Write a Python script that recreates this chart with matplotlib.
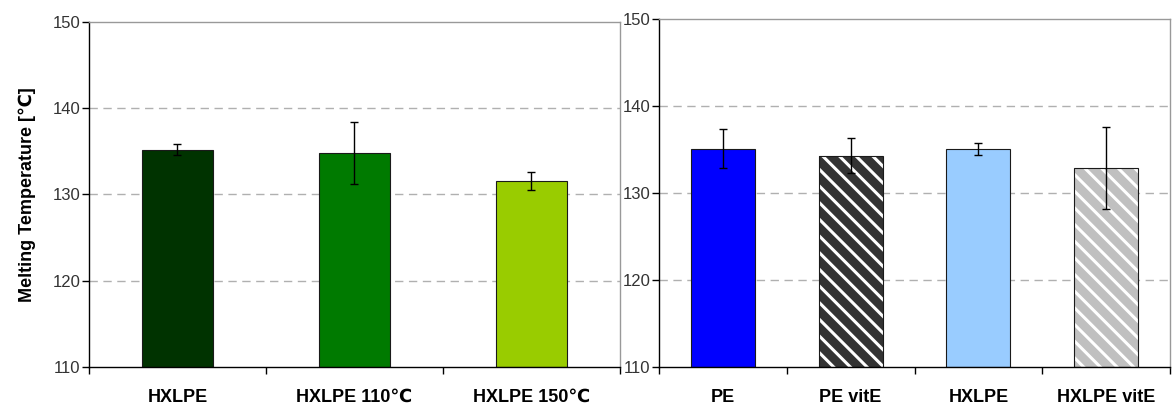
import matplotlib.pyplot as plt
import numpy as np

# melting temperatures, heat-treated HXLPE series
left_labels = ["HXLPE", "HXLPE 110\u2103", "HXLPE 150\u2103"]
left_means = [135.2, 134.85, 131.6]
left_err = [0.6, 3.6, 1.05]
left_colors = ["#003300", "#007a00", "#99cc00"]

# melting temperatures, vitamin E series
right_labels = ["PE", "PE vitE", "HXLPE", "HXLPE vitE"]
right_means = [135.1, 134.3, 135.1, 132.9]
right_err = [2.2, 2.05, 0.7, 4.7]
right_colors = ["#0000ff", "#333333", "#99ccff", "#c0c0c0"]
right_hatched = [False, True, False, True]

y_ticks = [110, 120, 130, 140, 150]

plt.rcParams['font.family'] = ['Liberation Sans', 'DejaVu Sans']
plt.rcParams['hatch.linewidth'] = 2.2

fig = plt.figure(figsize=(11.72, 4.08), dpi=100)
ax1 = fig.add_axes([0.0759, 0.1005, 0.4531, 0.8456])
ax2 = fig.add_axes([0.5623, 0.1005, 0.4360, 0.8530])


def style_axes(ax, labels):
    n = len(labels)
    ax.set_ylim(110, 150)
    ax.set_xlim(-0.5, n - 0.5)
    ax.set_yticks(y_ticks)
    ax.set_yticklabels([str(t) for t in y_ticks], fontsize=12, color="#333333")
    ax.set_xticks(np.arange(n))
    ax.set_xticklabels(labels, fontsize=13, fontweight="bold", va="baseline")
    ax.tick_params(axis="x", length=0, pad=25)
    ax.set_xticks(np.arange(n + 1) - 0.5, minor=True)
    ax.tick_params(axis="x", which="minor", length=5, width=1, direction="out")
    ax.tick_params(axis="y", length=5, width=1, direction="out", pad=1)
    for t in [120, 130, 140]:
        ax.axhline(t, color="#b0b0b0", linestyle=(0, (6, 4)), linewidth=1, zorder=0)
    ax.spines["left"].set_color("black")
    ax.spines["bottom"].set_color("black")
    ax.spines["top"].set_color("#999999")
    ax.spines["right"].set_color("#999999")
    for s in ax.spines.values():
        s.set_linewidth(1)


# left panel
x1 = np.arange(len(left_labels))
ax1.bar(x1, np.array(left_means) - 110, bottom=110, width=0.4,
        color=left_colors, edgecolor="#1a1a1a", linewidth=0.8, zorder=2)
ax1.errorbar(x1, left_means, yerr=left_err, fmt="none", ecolor="black",
             elinewidth=1, capsize=3, capthick=1, zorder=3)
style_axes(ax1, left_labels)
ax1.set_ylabel("Melting Temperature [\u2103]", fontsize=13, fontweight="bold", labelpad=12)

# right panel
x2 = np.arange(len(right_labels))
for xi, m, c, h in zip(x2, right_means, right_colors, right_hatched):
    if h:
        ax2.bar(xi, m - 110, bottom=110, width=0.5, color=c, edgecolor="white",
                hatch="\\\\", linewidth=0, zorder=2)
        ax2.bar(xi, m - 110, bottom=110, width=0.5, fill=False,
                edgecolor="#1a1a1a", linewidth=0.8, zorder=2)
    else:
        ax2.bar(xi, m - 110, bottom=110, width=0.5, color=c,
                edgecolor="#1a1a1a", linewidth=0.8, zorder=2)
ax2.errorbar(x2, right_means, yerr=right_err, fmt="none", ecolor="black",
             elinewidth=1, capsize=3, capthick=1, zorder=3)
style_axes(ax2, right_labels)

fig.savefig("out.png", dpi=100)
